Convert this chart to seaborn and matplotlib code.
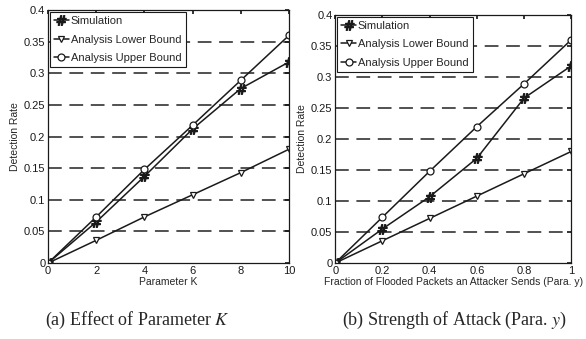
import pandas as pd
import matplotlib.pyplot as plt
import seaborn as sns

sns.set_theme(style="white")
plt.rcParams['font.family'] = ['Liberation Sans', 'DejaVu Sans']

# 数据
k_values = [0, 2, 4, 6, 8, 10]
k_sim = [0, 0.065, 0.137, 0.212, 0.276, 0.318]
k_lower = [0, 0.036, 0.073, 0.108, 0.143, 0.180]
k_upper = [0, 0.073, 0.148, 0.218, 0.289, 0.360]

y_values = [0, 0.2, 0.4, 0.6, 0.8, 1.0]
y_sim = [0, 0.055, 0.107, 0.169, 0.266, 0.318]
y_lower = [0, 0.036, 0.072, 0.108, 0.144, 0.180]
y_upper = [0, 0.074, 0.148, 0.220, 0.289, 0.360]

series_names = ["Simulation", "Analysis Lower Bound", "Analysis Upper Bound"]
series_markers = [r"$\#$", "v", "o"]

y_ticks = [0, 0.05, 0.1, 0.15, 0.2, 0.25, 0.3, 0.35, 0.4]
y_ticklabels = ["0", "0.05", "0.1", "0.15", "0.2", "0.25", "0.3", "0.35", "0.4"]

fig = plt.figure(figsize=(5.86, 3.39), dpi=100)
ax1 = fig.add_axes([0.082, 0.224, 0.411, 0.746])
ax2 = fig.add_axes([0.572, 0.224, 0.403, 0.732])


def draw_panel(ax, x, ys, xticks, xticklabels, xlabel):
    for name, mk, vals in zip(series_names, series_markers, ys):
        df = pd.DataFrame({"x": x, "y": vals})
        ms = 7 if mk == r"$\#$" else 5
        sns.lineplot(data=df, x="x", y="y", ax=ax, color="k", lw=1.1,
                     marker=mk, markersize=ms, mfc="white", mec="k",
                     mew=0.9, label=name)
    ax.set_xlim(x[0], x[-1])
    ax.set_ylim(0, 0.4)
    ax.set_yticks(y_ticks)
    ax.set_yticklabels(y_ticklabels)
    ax.set_xticks(xticks)
    ax.set_xticklabels(xticklabels)
    for yt in y_ticks[1:-1]:
        ax.axhline(yt, color="#222222", lw=1.1, dashes=(9, 5), zorder=0)
    ax.tick_params(direction="in", top=True, right=True, length=3,
                   labelsize=8, pad=2, colors="k")
    for sp in ax.spines.values():
        sp.set_color("k")
        sp.set_linewidth(0.9)
    ax.set_xlabel(xlabel, fontsize=7.5, labelpad=1)
    ax.set_ylabel("Detection Rate", fontsize=7.5, labelpad=3)
    leg = ax.legend(loc="upper left", fontsize=8, frameon=True, fancybox=False,
                    handlelength=1.3, handletextpad=0.2, borderpad=0.4,
                    labelspacing=0.75, borderaxespad=0.15)
    leg.get_frame().set_edgecolor("k")
    leg.get_frame().set_linewidth(0.8)
    leg.get_frame().set_alpha(1)


draw_panel(ax1, k_values, [k_sim, k_lower, k_upper], k_values,
           ["0", "2", "4", "6", "8", "10"], "Parameter K")
draw_panel(ax2, y_values, [y_sim, y_lower, y_upper], y_values,
           ["0", "0.2", "0.4", "0.6", "0.8", "1"],
           "Fraction of Flooded Packets an Attacker Sends (Para. y)")

fig.text(0.235, 0.055, "(a) Effect of Parameter $K$", ha="center", va="center",
         fontsize=13, family="Liberation Serif", math_fontfamily="stix")
fig.text(0.775, 0.055, "(b) Strength of Attack (Para. $y$)", ha="center", va="center",
         fontsize=13, family="Liberation Serif", math_fontfamily="stix")

fig.savefig("out.png", dpi=100, facecolor="white")
